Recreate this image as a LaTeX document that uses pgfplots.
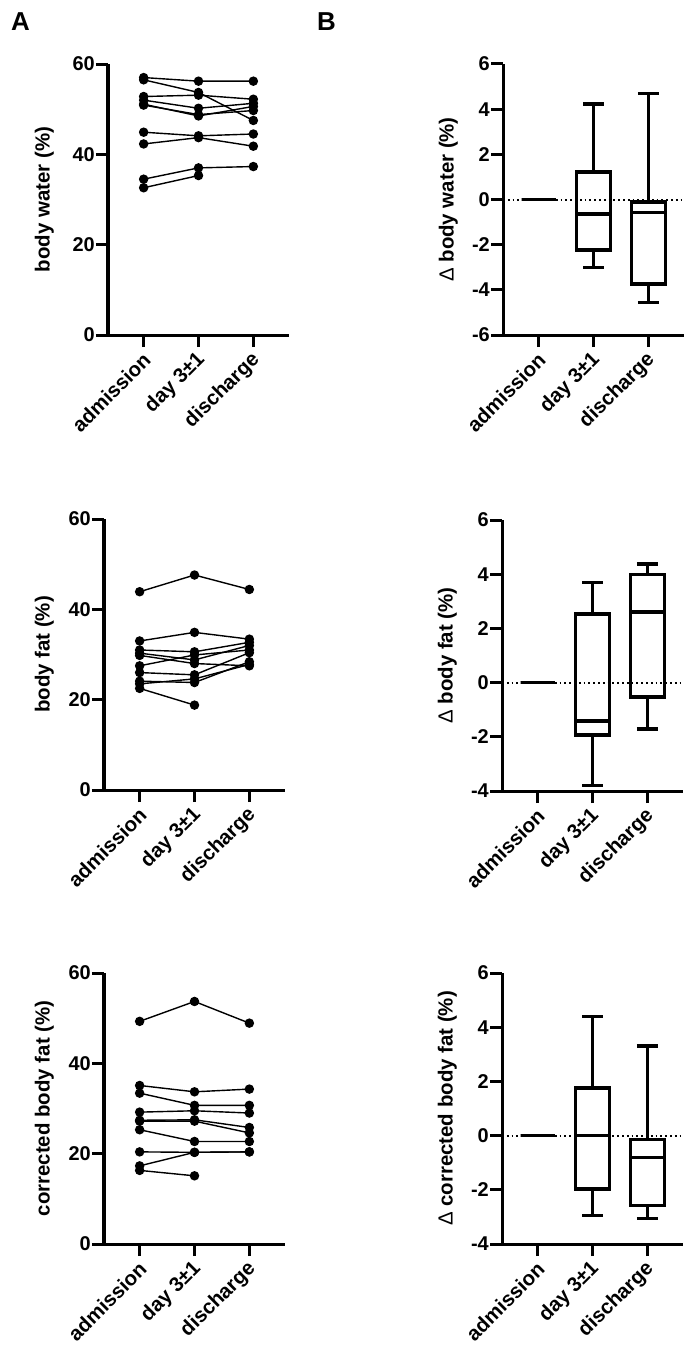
\documentclass[border=0pt]{standalone}
\usepackage{fontspec}
\setmainfont{Liberation Sans}
\usepackage{pgfplots}
\pgfplotsset{compat=1.18}
\usepgfplotslibrary{statistics}

\pgfplotsset{
  prism/.style={
    scale only axis, width=181bp, height=271bp,
    axis lines=left, axis line style={line width=3bp, -},
    xmin=-0.65, xmax=2.65, clip=false,
    xtick={0,1,2}, xticklabels={admission, day 3±1, discharge},
    tick style={line width=3bp, black}, major tick length=12bp, tick align=outside,
    /pgf/number format/assume math mode=true,
    yticklabel style={font=\fontsize{20}{22}\selectfont\bfseries, inner sep=1bp},
    xticklabel style={anchor=east, inner sep=1bp, xshift=4bp, yshift=-9bp, rotate=45,
      font=\fontsize{20.5}{22}\selectfont\bfseries},
    boxplot/draw direction=y,
  },
  ylab/.style={every axis y label/.style={at={(axis description cs:0,0.5)}, anchor=south,
      inner sep=0pt, font=\fontsize{20.5}{22}\selectfont\bfseries, xshift=#1, rotate=90}},
  subj/.style={black, line width=1.4bp, mark=*, mark size=4bp, mark options={solid}},
  pbox/.style={black, line width=3.5bp, solid, mark=none},
  zero/.style={black, line width=2bp, dash pattern=on 1.8bp off 3bp},
}

\begin{document}
\begin{tikzpicture}
\path[use as bounding box] (0,0) rectangle (688bp,-1356bp);
\node[font=\fontsize{26}{26}\selectfont\bfseries, anchor=base west, inner sep=0] at (11bp,-30bp) {A};
\node[font=\fontsize{26}{26}\selectfont\bfseries, anchor=base west, inner sep=0] at (317bp,-30bp) {B};

% A1 body water
\begin{axis}[prism, ylab=-54bp, at={(108bp,-335bp)}, anchor=south west,
  ymin=0, ymax=60, ytick={0,20,40,60}, ylabel={body water (\%)}]
\addplot[subj] coordinates {(0,57.0) (1,56.2) (2,56.2)};
\addplot[subj] coordinates {(0,56.5) (1,53.7) (2,47.5)};
\addplot[subj] coordinates {(0,52.8) (1,53.1) (2,52.2)};
\addplot[subj] coordinates {(0,52.0) (1,50.2) (2,51.3)};
\addplot[subj] coordinates {(0,51.1) (1,48.5) (2,50.6)};
\addplot[subj] coordinates {(0,50.9) (1,48.8) (2,49.7)};
\addplot[subj] coordinates {(0,44.9) (1,44.1) (2,44.5)};
\addplot[subj] coordinates {(0,42.3) (1,43.7) (2,41.8)};
\addplot[subj] coordinates {(0,34.5) (1,37.0) (2,37.3)};
\addplot[subj] coordinates {(0,32.6) (1,35.3)};
\end{axis}

% B1 delta body water
\begin{axis}[prism, ylab=-45bp, at={(503bp,-335bp)}, anchor=south west,
  ymin=-6, ymax=6, ytick={-6,-4,...,6}, ylabel={{\mdseries Δ} body water (\%)}]
\addplot[zero] coordinates {(-0.65,0) (2.65,0)};
\addplot[pbox, boxplot prepared={draw position=0, median=0, upper quartile=0, lower quartile=0, upper whisker=0, lower whisker=0, box extend=0.62, whisker extend=0.38}] coordinates {};
\addplot[pbox, boxplot prepared={draw position=1, median=-0.64, upper quartile=1.22, lower quartile=-2.24, upper whisker=4.23, lower whisker=-3.02, box extend=0.62, whisker extend=0.38}] coordinates {};
\addplot[pbox, boxplot prepared={draw position=2, median=-0.57, upper quartile=-0.12, lower quartile=-3.74, upper whisker=4.70, lower whisker=-4.57, box extend=0.62, whisker extend=0.38}] coordinates {};
\end{axis}

% A2 body fat
\begin{axis}[prism, ylab=-50bp, at={(104bp,-790bp)}, anchor=south west,
  ymin=0, ymax=60, ytick={0,20,40,60}, ylabel={body fat (\%)}]
\addplot[subj] coordinates {(0,43.9) (1,47.6) (2,44.4)};
\addplot[subj] coordinates {(0,33.0) (1,34.9) (2,33.4)};
\addplot[subj] coordinates {(0,31.0) (1,30.6) (2,32.7)};
\addplot[subj] coordinates {(0,30.3) (1,28.8) (2,32.0)};
\addplot[subj] coordinates {(0,29.8) (1,28.0) (2,27.5)};
\addplot[subj] coordinates {(0,27.5) (1,29.9) (2,31.0)};
\addplot[subj] coordinates {(0,26.0) (1,25.5) (2,30.4)};
\addplot[subj] coordinates {(0,24.1) (1,23.8) (2,28.4)};
\addplot[subj] coordinates {(0,23.5) (1,24.6) (2,27.8)};
\addplot[subj] coordinates {(0,22.5) (1,18.8)};
\end{axis}

% B2 delta body fat
\begin{axis}[prism, ylab=-45bp, at={(502bp,-791bp)}, anchor=south west,
  ymin=-4, ymax=6, ytick={-4,-2,...,6}, ylabel={{\mdseries Δ} body fat (\%)}]
\addplot[zero] coordinates {(-0.65,0) (2.65,0)};
\addplot[pbox, boxplot prepared={draw position=0, median=0, upper quartile=0, lower quartile=0, upper whisker=0, lower whisker=0, box extend=0.62, whisker extend=0.38}] coordinates {};
\addplot[pbox, boxplot prepared={draw position=1, median=-1.42, upper quartile=2.53, lower quartile=-1.93, upper whisker=3.69, lower whisker=-3.79, box extend=0.62, whisker extend=0.38}] coordinates {};
\addplot[pbox, boxplot prepared={draw position=2, median=2.61, upper quartile=3.98, lower quartile=-0.54, upper whisker=4.37, lower whisker=-1.71, box extend=0.62, whisker extend=0.38}] coordinates {};
\end{axis}

% A3 corrected body fat
\begin{axis}[prism, ylab=-50bp, at={(104bp,-1244bp)}, anchor=south west,
  ymin=0, ymax=60, ytick={0,20,40,60}, ylabel={corrected body fat (\%)}]
\addplot[subj] coordinates {(0,49.3) (1,53.7) (2,48.9)};
\addplot[subj] coordinates {(0,35.1) (1,33.7) (2,34.3)};
\addplot[subj] coordinates {(0,33.4) (1,30.7) (2,30.7)};
\addplot[subj] coordinates {(0,29.2) (1,29.5) (2,29.0)};
\addplot[subj] coordinates {(0,27.4) (1,27.5) (2,25.8)};
\addplot[subj] coordinates {(0,27.2) (1,27.2) (2,24.6)};
\addplot[subj] coordinates {(0,25.3) (1,22.7) (2,22.7)};
\addplot[subj] coordinates {(0,20.4) (1,20.3) (2,20.4)};
\addplot[subj] coordinates {(0,17.3) (1,20.3) (2,20.4)};
\addplot[subj] coordinates {(0,16.3) (1,15.1)};
\end{axis}

% B3 delta corrected body fat
\begin{axis}[prism, ylab=-45bp, at={(502bp,-1244bp)}, anchor=south west,
  ymin=-4, ymax=6, ytick={-4,-2,...,6}, ylabel={{\mdseries Δ} corrected body fat (\%)}]
\addplot[zero] coordinates {(-0.65,0) (2.65,0)};
\addplot[pbox, boxplot prepared={draw position=0, median=0, upper quartile=0, lower quartile=0, upper whisker=0, lower whisker=0, box extend=0.62, whisker extend=0.38}] coordinates {};
\addplot[pbox, boxplot prepared={draw position=1, median=0, upper quartile=1.75, lower quartile=-1.97, upper whisker=4.39, lower whisker=-2.95, box extend=0.62, whisker extend=0.38}] coordinates {};
\addplot[pbox, boxplot prepared={draw position=2, median=-0.80, upper quartile=-0.15, lower quartile=-2.58, upper whisker=3.30, lower whisker=-3.05, box extend=0.62, whisker extend=0.38}] coordinates {};
\end{axis}
\end{tikzpicture}
\end{document}
